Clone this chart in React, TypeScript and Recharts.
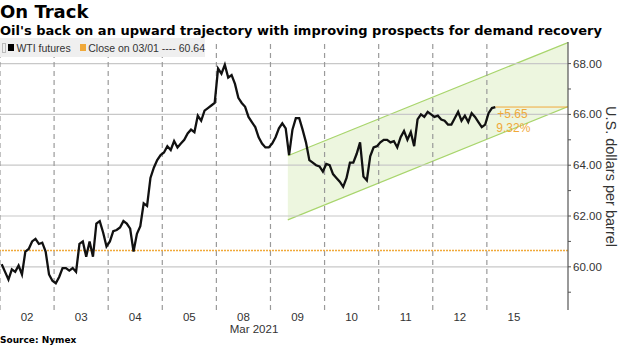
import { ComposedChart, Line, Area, XAxis, YAxis, ReferenceLine } from 'recharts'

// trading sessions shown on the x axis
const DAYS = ['02', '03', '04', '05', '08', '09', '10', '11', '12', '15']

const MAR02 = [60.1, 59.8, 59.5, 59.9, 59.8, 60.05, 59.7, 60.6, 60.7, 61.0, 61.1, 60.9, 60.95, 60.6, 59.7, 59.45]
const MAR03 = [59.35, 59.6, 59.95, 59.95, 59.85, 59.95, 59.8, 60.9, 61.0, 60.4, 61.0, 60.4, 61.7, 61.8, 61.35, 60.8]
const MAR04 = [61.0, 61.4, 61.45, 61.55, 61.8, 61.7, 61.5, 60.6, 61.3, 61.6, 62.5, 62.4, 63.5, 63.9, 64.2, 64.4]
const MAR05 = [64.5, 64.75, 64.6, 64.95, 64.7, 64.85, 65.0, 65.25, 65.4, 65.3, 65.95, 65.75, 66.15, 66.25, 66.35, 66.45]
const MAR08 = [67.8, 67.6, 67.95, 67.45, 67.55, 67.2, 66.65, 66.45, 66.3, 65.9, 65.7, 65.5, 65.1, 64.85, 64.7, 64.7]
const MAR09 = [64.85, 65.1, 65.45, 65.65, 65.45, 64.4, 65.4, 65.85, 65.85, 65.4, 64.9, 64.2, 64.1, 64.0, 63.95, 63.75]
const MAR10 = [64.05, 64.0, 63.65, 63.5, 63.35, 63.15, 63.5, 64.1, 64.1, 64.45, 64.9, 63.55, 63.4, 64.35, 64.7, 64.75]
const MAR11 = [64.9, 65.0, 65.0, 64.9, 64.95, 64.7, 65.1, 65.35, 65.0, 65.3, 64.75, 65.8, 66.0, 65.9, 66.1, 66.0]
const MAR12 = [65.9, 65.95, 65.8, 65.75, 65.6, 65.6, 65.85, 66.1, 65.75, 65.95, 65.7, 66.05, 65.9, 65.7, 65.5, 65.6]
const MAR15 = [66.05, 66.25, 66.29]
const SESSIONS = [MAR02, MAR03, MAR04, MAR05, MAR08, MAR09, MAR10, MAR11, MAR12, MAR15]
const SAMPLES_PER_DAY = 16

const CLOSE_0301 = 60.64

// trend channel (start / end in session units)
const CHANNEL_T = [5.32, 10.5]
const CHANNEL_LOW = [61.85, 66.31]
const CHANNEL_HIGH = [64.37, 68.83]

const X_DOMAIN = [0, 10.5]
const Y_DOMAIN = [58.3, 68.85]
const Y_TICKS = [59, 60, 61, 62, 63, 64, 65, 66, 67, 68]
const Y_GRID = [60, 62, 64, 66, 68]

const PRICE = SESSIONS.flatMap((vals, d) =>
  vals.map((p, k) => ({ t: d + (k + 0.5) / SAMPLES_PER_DAY, price: p }))
)
const CHANNEL = CHANNEL_T.map((t, i) => ({ t, band: [CHANNEL_LOW[i], CHANNEL_HIGH[i]] }))
const DAY_TICKS = DAYS.map((_, i) => i + 0.5)
const DAY_EDGES = DAYS.map((_, i) => i)

const LAST = PRICE[PRICE.length - 1]
const CHANGE = LAST.price - CLOSE_0301
const CHANGE_PCT = (CHANGE / CLOSE_0301) * 100

const ORANGE = '#f0a93a'
const H_GRID_COLOR = '#c8c8c8'
const V_GRID_COLOR = '#9a9a9a'
const LABEL_FONT = '"Liberation Sans", Arial, sans-serif'
const TITLE_FONT = '"DejaVu Sans", Verdana, sans-serif'

function ChangeLabel(props: any) {
  const { x, y } = props.viewBox
  return (
    <g fontFamily={LABEL_FONT} fontSize={12} fill={ORANGE}>
      <text x={x + 2} y={y + 11}>{`+${CHANGE.toFixed(2)}`}</text>
      <text x={x + 1} y={y + 25}>{`${CHANGE_PCT.toFixed(2)}%`}</text>
    </g>
  )
}

export default function App() {
  return (
    <div style={{ position: 'absolute', left: 0, top: 0, width: 620, height: 348, background: '#fff', overflow: 'hidden' }}>
      <div style={{ position: 'absolute', left: 0, top: 1, fontFamily: TITLE_FONT, fontWeight: 'bold', fontSize: 18, lineHeight: '22px', color: '#000' }}>
        On Track
      </div>
      <div style={{ position: 'absolute', left: 0, top: 23, fontFamily: TITLE_FONT, fontWeight: 'bold', fontSize: 13, lineHeight: '16px', color: '#000', whiteSpace: 'nowrap' }}>
        Oil's back on an upward trajectory with improving prospects for demand recovery
      </div>

      <div style={{ position: 'absolute', left: 0, top: 0 }}>
        <ComposedChart width={620} height={348} margin={{ top: 42, right: 8, bottom: 18, left: 0 }}>
          <XAxis
            type="number"
            dataKey="t"
            domain={X_DOMAIN}
            ticks={DAY_TICKS}
            interval={0}
            allowDataOverflow
            tickFormatter={(v: number) => DAYS[Math.floor(v)]}
            axisLine={false}
            tickLine={false}
            tickSize={0}
            tickMargin={3}
            height={20}
            tick={{ fontSize: 11.5, fill: '#333', fontFamily: LABEL_FONT }}
          />
          <YAxis
            orientation="right"
            type="number"
            domain={Y_DOMAIN}
            ticks={Y_TICKS}
            interval={0}
            allowDataOverflow
            width={44}
            tickSize={3}
            tickMargin={2}
            tickFormatter={(v: number) => (v % 2 === 0 ? v.toFixed(2) : '')}
            axisLine={{ stroke: '#555', strokeWidth: 1.2 }}
            tickLine={{ stroke: '#555' }}
            tick={{ fontSize: 11.5, fill: '#333', fontFamily: LABEL_FONT, textAnchor: 'start' }}
          />
          <Area
            data={CHANNEL}
            dataKey="band"
            type="linear"
            stroke="#a8d56c"
            strokeWidth={1.2}
            fill="#9ccc50"
            fillOpacity={0.18}
            isAnimationActive={false}
          />
          {/* horizontal grid */}
          <ReferenceLine y={Y_GRID[0]} stroke={H_GRID_COLOR} strokeWidth={1.2} />
          <ReferenceLine y={Y_GRID[1]} stroke={H_GRID_COLOR} strokeWidth={1.2} />
          <ReferenceLine y={Y_GRID[2]} stroke={H_GRID_COLOR} strokeWidth={1.2} />
          <ReferenceLine y={Y_GRID[3]} stroke={H_GRID_COLOR} strokeWidth={1.2} />
          <ReferenceLine y={Y_GRID[4]} stroke={H_GRID_COLOR} strokeWidth={1.2} />
          {/* session boundaries */}
          <ReferenceLine x={DAY_EDGES[0]} stroke={V_GRID_COLOR} strokeWidth={1.2} strokeDasharray="5 4" />
          <ReferenceLine x={DAY_EDGES[1]} stroke={V_GRID_COLOR} strokeWidth={1.2} strokeDasharray="5 4" />
          <ReferenceLine x={DAY_EDGES[2]} stroke={V_GRID_COLOR} strokeWidth={1.2} strokeDasharray="5 4" />
          <ReferenceLine x={DAY_EDGES[3]} stroke={V_GRID_COLOR} strokeWidth={1.2} strokeDasharray="5 4" />
          <ReferenceLine x={DAY_EDGES[4]} stroke={V_GRID_COLOR} strokeWidth={1.2} strokeDasharray="5 4" />
          <ReferenceLine x={DAY_EDGES[5]} stroke={V_GRID_COLOR} strokeWidth={1.2} strokeDasharray="5 4" />
          <ReferenceLine x={DAY_EDGES[6]} stroke={V_GRID_COLOR} strokeWidth={1.2} strokeDasharray="5 4" />
          <ReferenceLine x={DAY_EDGES[7]} stroke={V_GRID_COLOR} strokeWidth={1.2} strokeDasharray="5 4" />
          <ReferenceLine x={DAY_EDGES[8]} stroke={V_GRID_COLOR} strokeWidth={1.2} strokeDasharray="5 4" />
          <ReferenceLine x={DAY_EDGES[9]} stroke={V_GRID_COLOR} strokeWidth={1.2} strokeDasharray="5 4" />
          <ReferenceLine y={CLOSE_0301} stroke={ORANGE} strokeWidth={1.4} strokeDasharray="2 1" />
          <ReferenceLine
            segment={[{ x: LAST.t, y: LAST.price }, { x: X_DOMAIN[1], y: LAST.price }]}
            stroke={ORANGE}
            strokeWidth={1}
            label={<ChangeLabel />}
          />
          <Line
            data={PRICE}
            dataKey="price"
            type="linear"
            stroke="#111"
            strokeWidth={2.3}
            dot={false}
            isAnimationActive={false}
          />
        </ComposedChart>
      </div>

      <div style={{ position: 'absolute', left: 0, top: 38, width: 205, height: 19, background: '#efefef', display: 'flex', alignItems: 'center', fontFamily: LABEL_FONT, fontSize: 10.5, color: '#333', whiteSpace: 'nowrap' }}>
        <span style={{ width: 2, height: 8, border: '1px solid #bbb', marginLeft: 2, marginRight: 2 }} />
        <span style={{ width: 7, height: 7, background: '#000', marginRight: 2 }} />
        <span>WTI futures</span>
        <span style={{ width: 7, height: 7, background: ORANGE, marginLeft: 9, marginRight: 2 }} />
        <span>{`Close on 03/01 ---- ${CLOSE_0301.toFixed(2)}`}</span>
      </div>

      <div style={{ position: 'absolute', left: 603, top: 106, writingMode: 'vertical-rl', fontFamily: LABEL_FONT, fontSize: 14.5, color: '#333', whiteSpace: 'nowrap' }}>
        U.S. dollars per barrel
      </div>
      <div style={{ position: 'absolute', left: 254, top: 323, transform: 'translateX(-50%)', fontFamily: LABEL_FONT, fontSize: 11.5, color: '#333', whiteSpace: 'nowrap' }}>
        Mar 2021
      </div>
      <div style={{ position: 'absolute', left: 0, top: 335, fontFamily: TITLE_FONT, fontWeight: 'bold', fontSize: 9, color: '#000', whiteSpace: 'nowrap' }}>
        Source: Nymex
      </div>
    </div>
  )
}
